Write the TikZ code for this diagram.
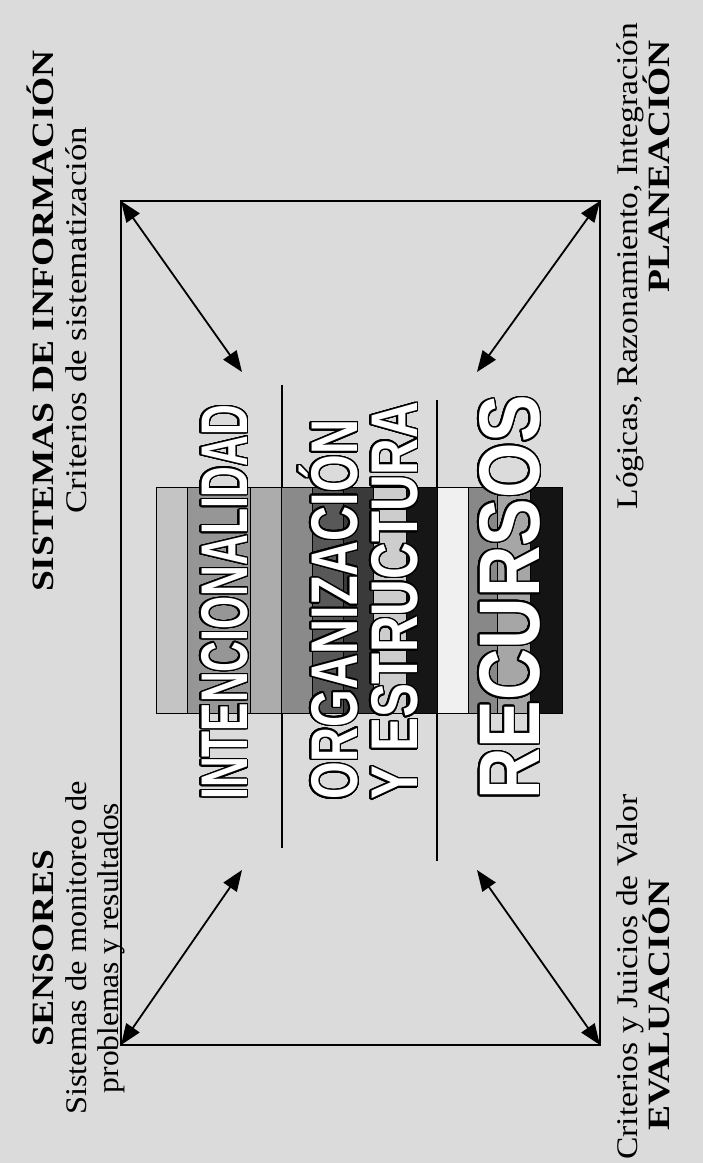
\documentclass[tikz,border=0pt]{standalone}
\usepackage{fontspec}
\setmainfont{Liberation Serif}
\newfontfamily\bigsans{Liberation Sans}
\usepackage{graphicx}
\usepackage{contour}
\contourlength{1.8pt}
\contournumber{32}
\usetikzlibrary{arrows.meta}

\definecolor{paper}{RGB}{219,219,219}
\definecolor{sA}{RGB}{196,196,196}
\definecolor{sB}{RGB}{150,150,150}
\definecolor{sC}{RGB}{172,172,172}
\definecolor{sD}{RGB}{138,138,138}
\definecolor{sE}{RGB}{88,88,88}
\definecolor{sF}{RGB}{58,58,58}
\definecolor{sG}{RGB}{205,205,205}
\definecolor{sH}{RGB}{22,22,22}
\definecolor{sI}{RGB}{240,240,240}
\definecolor{sJ}{RGB}{136,136,136}
\definecolor{sK}{RGB}{166,166,166}
\definecolor{sL}{RGB}{20,20,20}

\tikzset{
  frame/.style={line width=2.1pt, line join=miter},
  divider/.style={line width=1.2pt},
  link/.style={line width=1.8pt, {Triangle[length=21pt,width=16pt]}-{Triangle[length=21pt,width=16pt]}},
  stripe/.style={draw=black, line width=0.8pt},
  lbl/.style={rotate=90, inner sep=0pt, font=\fontsize{30}{30}\selectfont},
  lblb/.style={rotate=90, inner sep=0pt, font=\bfseries\fontsize{31}{31}\selectfont},
  bigword/.style={rotate=90, inner sep=0pt, text=white, font=\bigsans\bfseries\fontsize{66}{66}\selectfont},
}

\newcommand{\along}[2]{\scalebox{#1}[1]{#2}}

\begin{document}
\begin{tikzpicture}[x=1pt,y=-1pt]
  \fill[paper] (0,0) rectangle (703,1163);
  \useasboundingbox (0,0) rectangle (703,1163);

  % outer frame corners
  \coordinate (tl) at (121,201);
  \coordinate (tr) at (600,201);
  \coordinate (bl) at (121,1045);
  \coordinate (br) at (600,1045);
  \draw[frame] (tl) -- (tr) -- (br) -- (bl) -- cycle;

  % inner ends of the diagonal arrows
  \coordinate (tli) at (242,372);
  \coordinate (tri) at (477,372);
  \coordinate (bli) at (242,870);
  \coordinate (bri) at (477,870);

  % column dividers
  \coordinate (d1a) at (282,385);
  \coordinate (d1b) at (282,848);
  \coordinate (d2a) at (437,400);
  \coordinate (d2b) at (437,861);
  \draw[divider] (d1a) -- (d1b);
  \draw[divider] (d2a) -- (d2b);

  % striped block
  \foreach \a/\b/\c in {156/187/sA, 187/250/sB, 250/281/sC, 281/312/sD,
                        312/343/sE, 343/373/sF, 373/406/sG, 406/437/sH,
                        437/468/sI, 468/497/sJ, 497/530/sK, 530/562/sL}
    \filldraw[stripe, fill=\c] (\a,487) rectangle (\b,713);

  % diagonal arrows
  \draw[link] (tl) -- (tli);
  \draw[link] (tr) -- (tri);
  \draw[link] (bl) -- (bli);
  \draw[link] (br) -- (bri);

  % large words
  \node[bigword, anchor=base west] (intenc) at (247,800)
    {\along{0.645}{\contour{black}{INTENCIONALIDAD}}};
  \node[bigword, anchor=base west] (organiz) at (357,800)
    {\along{0.735}{\contour{black}{ORGANIZACIÓN}}};
  \node[bigword, anchor=base west] (estruct) at (417,800)
    {\along{0.77}{\contour{black}{Y ESTRUCTURA}}};
  \node[bigword, anchor=base west, font=\bigsans\bfseries\fontsize{86}{86}\selectfont] (recursos) at (539,800)
    {\along{0.83}{\contour{black}{RECURSOS}}};

  % left, lower labels
  \node[lblb, anchor=base] (sens) at (53,948) {\along{1.21}{SENSORES}};
  \node[lbl, anchor=base] (sensa) at (86,948) {\along{1.08}{Sistemas de monitoreo de}};
  \node[lbl, anchor=base] (sensb) at (118,948) {\along{1.05}{problemas y resultados}};

  % left, upper labels
  \node[lblb, anchor=base] (sist) at (53,321) {\along{1.21}{SISTEMAS DE INFORMACIÓN}};
  \node[lbl, anchor=base] (sista) at (86,320) {\along{1.16}{Criterios de sistematización}};

  % right, lower labels
  \node[lbl, anchor=base] (evala) at (637,977) {\along{1.12}{Criterios y Juicios de Valor}};
  \node[lblb, anchor=base] (eval) at (669,1005) {\along{1.21}{EVALUACIÓN}};

  % right, upper labels
  \node[lbl, anchor=base] (plana) at (637,266) {\along{1.12}{Lógicas, Razonamiento, Integración}};
  \node[lblb, anchor=base] (plan) at (669,166) {\along{1.21}{PLANEACIÓN}};
\end{tikzpicture}
\end{document}
